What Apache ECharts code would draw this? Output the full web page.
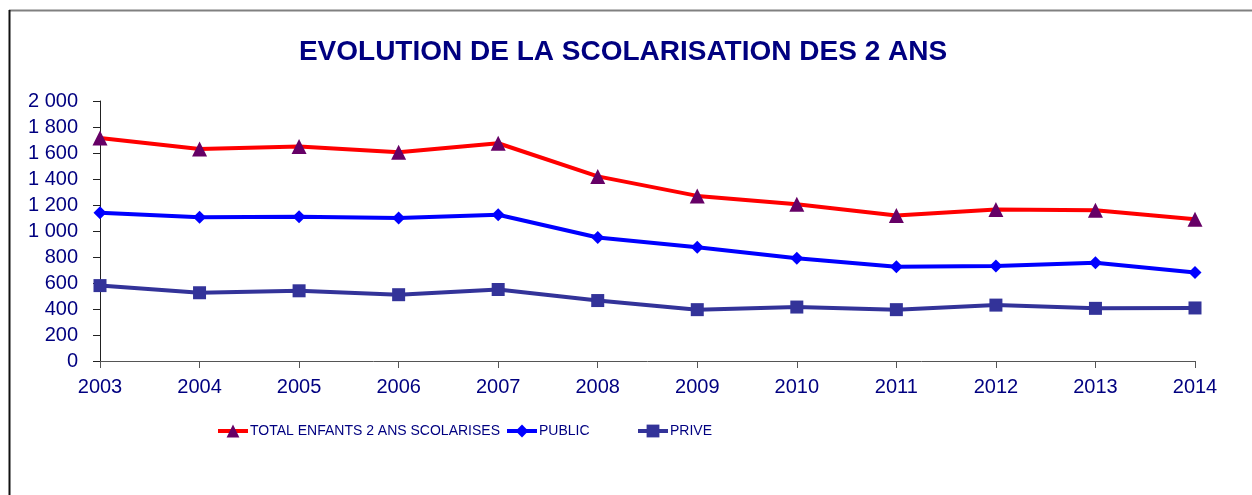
<!DOCTYPE html>
<html>
<head>
<meta charset="utf-8">
<script src="https://cdn.jsdelivr.net/npm/echarts@6/dist/echarts.min.js"></script>
<style>
  html, body { margin: 0; padding: 0; background: #fff; }
  #chart { width: 1252px; height: 495px; }
</style>
</head>
<body>
<div id="chart"></div>
<script>
const years = ['2003', '2004', '2005', '2006', '2007', '2008', '2009', '2010', '2011', '2012', '2013', '2014']
const total = [1715, 1630, 1650, 1605, 1675, 1420, 1270, 1205, 1120, 1165, 1160, 1090]
const publicSchools = [1140, 1105, 1110, 1100, 1125, 950, 875, 790, 725, 730, 755, 680]
const privateSchools = [580, 525, 540, 510, 550, 465, 395, 415, 395, 430, 405, 408]
const seriesNames = ['TOTAL ENFANTS 2 ANS SCOLARISES', 'PUBLIC', 'PRIVE']

const navy = '#000080'

const chart = echarts.init(document.getElementById('chart'))

function lineSeries(name, data, lineColor, markColor, symbol, size) {
  return {
    name,
    type: 'line',
    data,
    symbol,
    symbolSize: size,
    lineStyle: { color: lineColor, width: 4 },
    itemStyle: { color: markColor },
    emphasis: { disabled: true },
    animation: false
  }
}

// one legend per item so each sits where the original puts it
function legendAt(name, left) {
  return {
    data: [name],
    left,
    top: 424,
    padding: 0,
    itemWidth: 30,
    itemHeight: 16,
    lineStyle: { width: 4 },
    textStyle: { color: navy, fontFamily: 'Liberation Sans', fontSize: 14, padding: [0, 0, 0, -3] }
  }
}

chart.setOption({
  backgroundColor: '#fff',
  title: {
    text: 'EVOLUTION DE LA SCOLARISATION DES 2 ANS',
    left: 618,
    textAlign: 'center',
    top: 33,
    textStyle: { color: navy, fontFamily: 'Liberation Sans', fontSize: 28, fontWeight: 'bold' }
  },
  legend: [
    legendAt(seriesNames[0], 216),
    legendAt(seriesNames[1], 505),
    legendAt(seriesNames[2], 636)
  ],
  grid: { left: 100, right: 57, top: 101, bottom: 134 },
  xAxis: {
    type: 'category',
    data: years,
    boundaryGap: false,
    axisLine: { lineStyle: { color: '#555', width: 1 } },
    axisTick: { length: 7, alignWithLabel: true, lineStyle: { color: '#555' } },
    axisLabel: { color: navy, fontFamily: 'Liberation Sans', fontSize: 20, margin: 16 },
    splitLine: { show: false }
  },
  yAxis: {
    type: 'value',
    min: 0,
    max: 2000,
    interval: 200,
    axisLine: { show: true, lineStyle: { color: '#222', width: 1 } },
    axisTick: { show: true, length: 7, lineStyle: { color: '#222' } },
    axisLabel: {
      color: navy,
      fontFamily: 'Liberation Sans',
      fontSize: 20,
      margin: 22,
      formatter: (v) => String(v).replace(/\B(?=(\d{3})+(?!\d))/g, ' ')
    },
    splitLine: { show: false }
  },
  graphic: [
    { type: 'line', shape: { x1: 9, y1: 10.5, x2: 1252, y2: 10.5 }, style: { stroke: '#808080', lineWidth: 2 } },
    { type: 'line', shape: { x1: 9.5, y1: 10, x2: 9.5, y2: 495 }, style: { stroke: '#111', lineWidth: 2 } }
  ],
  series: [
    lineSeries(seriesNames[0], total, '#ff0000', '#660066', 'triangle', 15),
    lineSeries(seriesNames[1], publicSchools, '#0000ff', '#0000ff', 'diamond', 13),
    lineSeries(seriesNames[2], privateSchools, '#333399', '#333399', 'rect', 13)
  ]
})
</script>
</body>
</html>
